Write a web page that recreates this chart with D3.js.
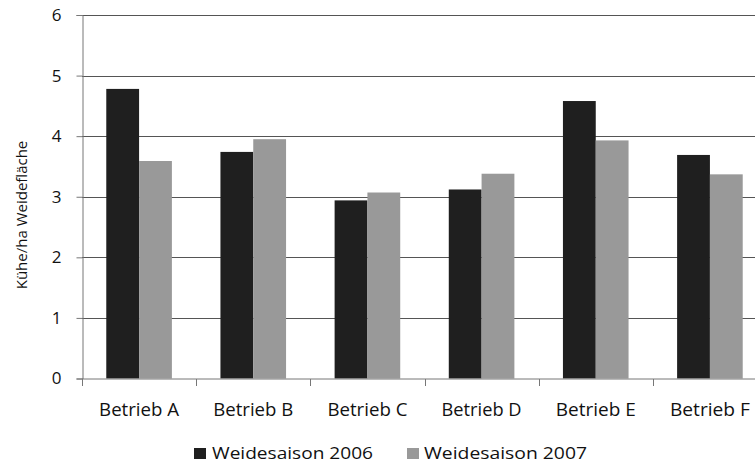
<!DOCTYPE html>
<html><head><meta charset="utf-8">
<script src="https://cdn.jsdelivr.net/npm/d3@7"></script>
<style>body{margin:0;background:#fff}svg{display:block}text{font-family:"Open Sans",sans-serif;fill:#111}</style>
</head><body>
<svg id="c" width="755" height="463"></svg>
<script>
const categories = ["Betrieb A","Betrieb B","Betrieb C","Betrieb D","Betrieb E","Betrieb F"];
const series2006 = [4.78, 3.74, 2.94, 3.12, 4.58, 3.69];
const series2007 = [3.59, 3.95, 3.07, 3.38, 3.93, 3.37];
const seriesNames = ["Weidesaison 2006","Weidesaison 2007"];
const yTicks = [0,1,2,3,4,5,6];
const colors = ["#1f1f1f","#999999"];

const svg = d3.select("#c");
const x0 = 82, x1 = 767, yTop = 15, yBot = 378.5;
const x = d3.scaleBand().domain(categories).range([x0, x1]).paddingInner(0).paddingOuter(0);
const y = d3.scaleLinear().domain([0,6]).range([yBot, yTop]);
const inner = d3.scaleBand().domain([0,1]).range([0, x.bandwidth()]).paddingOuter(0.74).paddingInner(0);

const g = svg.append("g");
g.selectAll("line.grid").data(yTicks.filter(d=>d>0)).join("line")
  .attr("x1", x0).attr("x2", 755).attr("y1", d=>Math.round(y(d))+0.5).attr("y2", d=>Math.round(y(d))+0.5)
  .attr("stroke", "#555").attr("stroke-width", 1);

const data = categories.map((c,i)=>({c, v:[series2006[i], series2007[i]]}));
const grp = g.selectAll("g.cat").data(data).join("g").attr("transform", d=>`translate(${x(d.c)},0)`);
grp.selectAll("rect").data(d=>d.v.map((v,k)=>({v,k}))).join("rect")
  .attr("x", d=>inner(d.k)).attr("width", inner.bandwidth())
  .attr("y", d=>y(d.v)).attr("height", d=>yBot - y(d.v))
  .attr("fill", d=>colors[d.k]);

const yAxis = d3.axisLeft(y).tickValues(yTicks).tickSize(6).tickPadding(15).tickFormat(d3.format("d"));
const ya = svg.append("g").attr("transform", `translate(${x0+0.5},0)`).call(yAxis);
ya.select(".domain").attr("stroke", "#777");
ya.selectAll(".tick line").attr("stroke", "#777");
ya.selectAll(".tick text").attr("font-size", 17).attr("font-family", "Open Sans").attr("fill","#111");

const xAxis = d3.axisBottom(x).tickSize(0).tickPadding(25);
const xa = svg.append("g").attr("transform", `translate(0,${yBot+0.5})`).call(xAxis);
xa.select(".domain").attr("stroke", "#777").attr("d", `M${x0},0H755`);
xa.selectAll(".tick text").attr("font-size", 17.5).attr("font-family", "Open Sans").attr("fill","#111")
  .attr("textLength", 80).attr("lengthAdjust", "spacingAndGlyphs");
xa.selectAll("line.sep").data(categories).join("line")
  .attr("x1", d=>Math.round(x(d))+0.5).attr("x2", d=>Math.round(x(d))+0.5)
  .attr("y1", 0).attr("y2", 7).attr("stroke", "#777");

svg.append("text").attr("transform", "translate(27,215) rotate(-90)")
  .attr("text-anchor","middle").attr("font-size", 15).text("Kühe/ha Weidefläche");

const legX = [194, 407];
const leg = svg.selectAll("g.leg").data(seriesNames).join("g").attr("transform",(d,i)=>`translate(${legX[i]},459)`);
leg.append("rect").attr("x",0).attr("y",-11).attr("width",12).attr("height",11).attr("fill",(d,i)=>colors[i]);
leg.append("text").attr("x",(d,i)=>i===0?18:17).attr("y",0).attr("font-size",17)
  .attr("textLength", (d,i)=>i===0?161:163).attr("lengthAdjust","spacingAndGlyphs").text(d=>d);
</script>
</body></html>
